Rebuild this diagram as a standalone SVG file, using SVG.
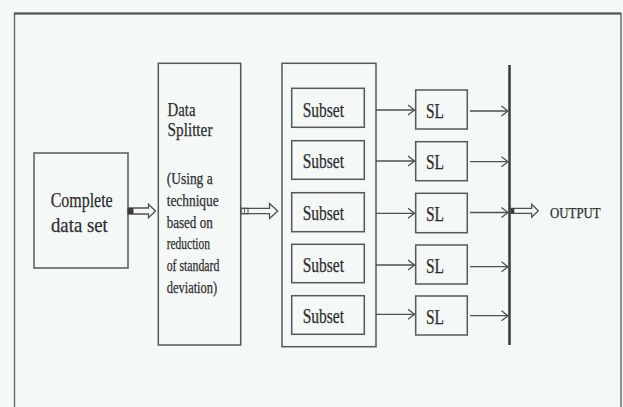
<svg xmlns="http://www.w3.org/2000/svg" width="623" height="407" viewBox="0 0 623 407">
  <style>
    .box { fill: none; stroke: #585858; stroke-width: 1.5; }
    .frame { fill: none; stroke: #666; stroke-width: 1.4; }
    .t { font-family: "Liberation Serif", "Times New Roman", serif; fill: #2e2e2e; stroke: #2e2e2e; stroke-width: 0.25; }
    .big { font-size: 21px; }
    .mid { font-size: 18.5px; }
    .sm { font-size: 16.5px; }
    .lbl { font-size: 20px; }
    .out { font-size: 15.5px; }
    .wire { fill: none; stroke: #505050; stroke-width: 1.3; marker-end: url(#open); }
    .fat { fill: #f4f8f7; stroke: #505050; stroke-width: 1.3; stroke-linejoin: miter; }
  </style>
  <defs>
    <marker id="open" viewBox="0 0 8 12" refX="7.5" refY="6" markerWidth="8" markerHeight="12" markerUnits="userSpaceOnUse" orient="auto">
      <path d="M1,1 L7.5,6 L1,11" fill="none" stroke="#505050" stroke-width="1.3"/>
    </marker>
  </defs>

  <!-- page -->
  <rect x="0" y="0" width="623" height="407" fill="#f4f8f7"/>
  <path class="frame" d="M14.5,407 V13.5 H621 V407"/>
  <line x1="14" y1="13.5" x2="621" y2="13.5" stroke="#505050" stroke-width="1.8"/>

  <!-- input -->
  <g id="complete-data-set">
    <rect class="box" x="34" y="153" width="94" height="115"/>
    <text class="t big" x="50.7" y="207.3" textLength="62" lengthAdjust="spacingAndGlyphs">Complete</text>
    <text class="t big" x="51" y="232.3" textLength="56.7" lengthAdjust="spacingAndGlyphs">data set</text>
  </g>

  <!-- splitter -->
  <g id="data-splitter">
    <rect class="box" x="158.3" y="63.3" width="82.4" height="281.7"/>
    <text class="t mid" x="167.5" y="116" textLength="28" lengthAdjust="spacingAndGlyphs">Data</text>
    <text class="t mid" x="167.5" y="136" textLength="45" lengthAdjust="spacingAndGlyphs">Splitter</text>
    <text class="t sm" x="166.7" y="184" textLength="46" lengthAdjust="spacingAndGlyphs">(Using a</text>
    <text class="t sm" x="166.7" y="206" textLength="52" lengthAdjust="spacingAndGlyphs">technique</text>
    <text class="t sm" x="166.7" y="227.7" textLength="46" lengthAdjust="spacingAndGlyphs">based on</text>
    <text class="t sm" x="166.7" y="249" textLength="43.3" lengthAdjust="spacingAndGlyphs">reduction</text>
    <text class="t sm" x="166.7" y="271" textLength="52.7" lengthAdjust="spacingAndGlyphs">of standard</text>
    <text class="t sm" x="166.7" y="292.7" textLength="50.5" lengthAdjust="spacingAndGlyphs">deviation)</text>
  </g>

  <!-- subsets -->
  <g id="subset-group">
    <rect class="box" x="282" y="63.3" width="94" height="283.4"/>
    <g id="subset-1">
      <rect class="box" x="291.7" y="88.3" width="72.6" height="39"/>
      <text class="t lbl" x="302.7" y="116.7" textLength="41.3" lengthAdjust="spacingAndGlyphs">Subset</text>
    </g>
    <g id="subset-2">
      <rect class="box" x="291.7" y="140.7" width="72.6" height="38.6"/>
      <text class="t lbl" x="302.7" y="168.3" textLength="41.3" lengthAdjust="spacingAndGlyphs">Subset</text>
    </g>
    <g id="subset-3">
      <rect class="box" x="291.7" y="192.7" width="72.6" height="39"/>
      <text class="t lbl" x="302.7" y="220" textLength="41.3" lengthAdjust="spacingAndGlyphs">Subset</text>
    </g>
    <g id="subset-4">
      <rect class="box" x="291.7" y="244.3" width="72.6" height="38.4"/>
      <text class="t lbl" x="302.7" y="271.7" textLength="41.3" lengthAdjust="spacingAndGlyphs">Subset</text>
    </g>
    <g id="subset-5">
      <rect class="box" x="291.7" y="295.7" width="72.6" height="38.6"/>
      <text class="t lbl" x="302.7" y="322.7" textLength="41.3" lengthAdjust="spacingAndGlyphs">Subset</text>
    </g>
  </g>

  <!-- learners -->
  <g id="sl-1">
    <rect class="box" x="415.7" y="90" width="51.6" height="39"/>
    <text class="t lbl" x="426" y="117.7" textLength="18" lengthAdjust="spacingAndGlyphs">SL</text>
  </g>
  <g id="sl-2">
    <rect class="box" x="415.7" y="141.7" width="51.6" height="39"/>
    <text class="t lbl" x="426" y="169.3" textLength="18" lengthAdjust="spacingAndGlyphs">SL</text>
  </g>
  <g id="sl-3">
    <rect class="box" x="415.7" y="193.3" width="51.6" height="39.4"/>
    <text class="t lbl" x="426" y="221" textLength="18" lengthAdjust="spacingAndGlyphs">SL</text>
  </g>
  <g id="sl-4">
    <rect class="box" x="415.7" y="245" width="51.6" height="39"/>
    <text class="t lbl" x="426" y="272.7" textLength="18" lengthAdjust="spacingAndGlyphs">SL</text>
  </g>
  <g id="sl-5">
    <rect class="box" x="415.7" y="296" width="51.6" height="39"/>
    <text class="t lbl" x="426" y="323.7" textLength="18" lengthAdjust="spacingAndGlyphs">SL</text>
  </g>

  <!-- combining bus -->
  <g id="output-bus">
    <line x1="509.5" y1="65" x2="509.5" y2="345" stroke="#404040" stroke-width="2.6"/>
  </g>

  <g id="output">
    <text class="t out" x="550" y="217.7" textLength="50.7" lengthAdjust="spacingAndGlyphs">OUTPUT</text>
  </g>

  <!-- connectors -->
  <g id="connectors">
    <!-- hollow block arrows -->
    <path class="fat" d="M128,208 H148.5 V204.3 L155.5,211 L148.5,217.7 V214 H128 Z"/>
    <rect x="128" y="208" width="5.5" height="6" fill="#3c3c3c"/>

    <path class="fat" d="M241,208.3 H269.5 V203.5 L277.7,211 L269.5,218.5 V213.7 H241 Z"/>
    <rect x="241" y="208.3" width="7" height="5.4" fill="none" stroke="#505050" stroke-width="1"/>
    <line x1="244.5" y1="208.3" x2="244.5" y2="213.7" stroke="#505050" stroke-width="0.9"/>

    <path class="fat" d="M511,208.3 H531.7 V204.3 L538.3,210.8 L531.7,217.3 V213.3 H511 Z"/>
    <rect x="510.8" y="208.3" width="3.5" height="5" fill="#3c3c3c"/>

    <!-- subset to learner -->
    <line class="wire" x1="376" y1="110" x2="414.5" y2="110"/>
    <line class="wire" x1="376" y1="161" x2="414.5" y2="161"/>
    <line class="wire" x1="376" y1="213.3" x2="414.5" y2="213.3"/>
    <line class="wire" x1="376" y1="265" x2="414.5" y2="265"/>
    <line class="wire" x1="376" y1="314.3" x2="414.5" y2="314.3"/>

    <!-- learner to bus -->
    <line class="wire" x1="470" y1="111" x2="508" y2="111"/>
    <line class="wire" x1="470" y1="161.7" x2="508" y2="161.7"/>
    <line class="wire" x1="470" y1="212.5" x2="508" y2="212.5"/>
    <line class="wire" x1="470" y1="266.7" x2="508" y2="266.7"/>
    <line class="wire" x1="470" y1="315.7" x2="508" y2="315.7"/>
  </g>
</svg>
